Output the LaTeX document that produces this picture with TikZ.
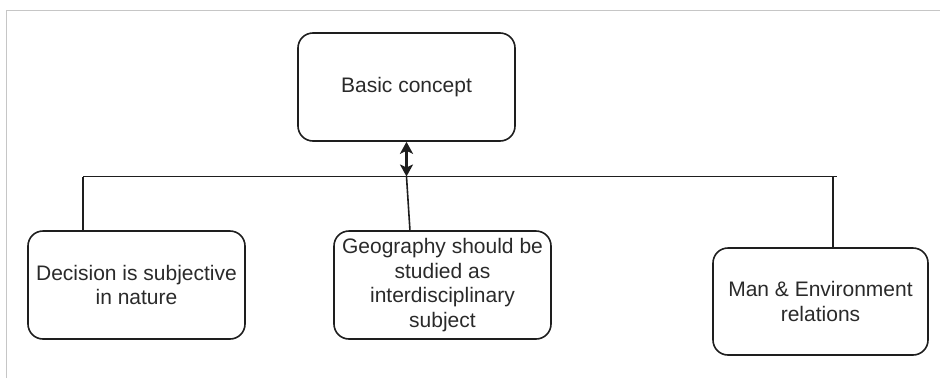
\documentclass[tikz,border=0pt]{standalone}
\usepackage{fontspec}
\setmainfont{Liberation Sans}
\usetikzlibrary{arrows.meta}
\definecolor{linec}{HTML}{1E1E1E}
\definecolor{textc}{HTML}{2A2A2A}
\begin{document}
\begin{tikzpicture}[x=1pt,y=-1pt,
  box/.style={draw=linec, line width=1.6pt, rounded corners=15pt, minimum width=217pt, minimum height=108pt, inner sep=0pt, align=center, text=textc, font=\fontsize{21}{24.5}\selectfont},
  conn/.style={draw=linec, line width=1.6pt},
  dtip/.style={{Stealth[length=12pt,width=13pt,inset=3pt,fill=linec]}-{Stealth[length=12pt,width=13pt,inset=3pt,fill=linec]}}
]
\useasboundingbox (0,0) rectangle (940,378);
\draw[gray!45, line width=1.5pt] (6.5,378) -- (6.5,10.5) -- (940,10.5);

\node[box] (basic) at (406.5,87) {\raisebox{-2pt}{Basic concept}};
\node[box] (decision) at (136.5,285) {Decision is subjective\\in nature};
\node[box] (geo) at (442.5,285) {Geography should be\\studied as\\interdisciplinary\\subject};
\node[box, minimum width=215pt, minimum height=107pt] (man) at (820.5,301.5) {Man \& Environment\\relations};

\coordinate (jl) at (83,176.5);
\coordinate (jm) at (406.5,176.5);
\coordinate (jr) at (837,176.5);
\coordinate (jr2) at (833,176.5);
\coordinate (gtop) at (410,231);

\draw[conn] (jl) -- (jr);
\draw[conn] (jl) -- (jl |- decision.north);
\draw[conn] (jr2) -- (jr2 |- man.north);
\draw[conn] (jm) -- (gtop);
\draw[conn, line width=2.2pt, dtip] (basic.south) -- (jm);
\end{tikzpicture}
\end{document}
